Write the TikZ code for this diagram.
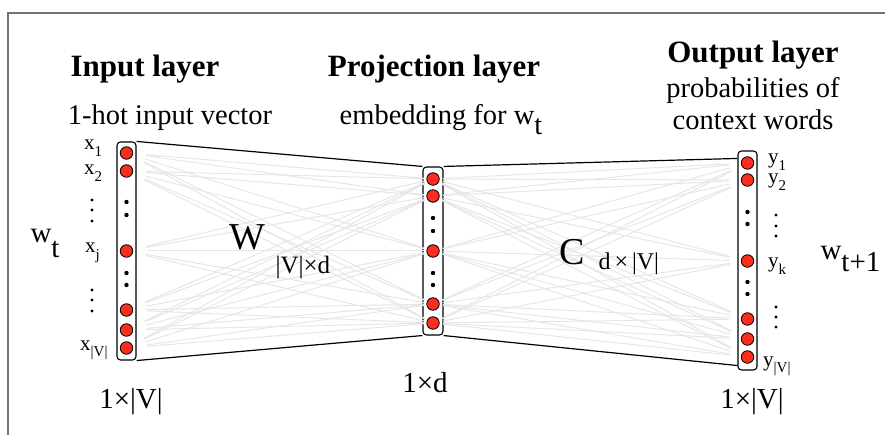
\documentclass[tikz,border=0pt]{standalone}
\usepackage{fontspec}
\setmainfont{Liberation Serif}
\usetikzlibrary{positioning, calc}
\definecolor{unitred}{RGB}{250,45,30}
\definecolor{framegray}{RGB}{115,115,115}
\definecolor{wiregray}{RGB}{230,230,230}
\newcommand{\lowered}[2]{\raisebox{-#1}{#2}}

\begin{document}
\begin{tikzpicture}[
  x=1pt, y=-1pt,
  layer/.style={rectangle, draw=black, line width=1.1pt, rounded corners=3.5pt,
                fill=white, minimum width=19pt, inner sep=0pt},
  unit/.style={circle, draw=black, line width=0.8pt, fill=unitred,
               minimum size=12.5pt, inner sep=0pt},
  gap/.style={circle, fill=black, minimum size=4.4pt, inner sep=0pt},
  vdot/.style={circle, fill=black, minimum size=3.4pt, inner sep=0pt},
  wire/.style={wiregray, line width=1pt},
  edge/.style={black, line width=1.2pt},
  title/.style={font=\fontsize{31}{33}\selectfont\bfseries},
  desc/.style={font=\fontsize{28.5}{32}\selectfont, align=center},
  dim/.style={font=\fontsize{29}{32}\selectfont},
  idx/.style={font=\fontsize{21}{23}\selectfont, inner sep=0pt}
]
  \useasboundingbox (0,0) rectangle (885,435);
  \draw[framegray, line width=1.5pt] (8,435) -- (8,13) -- (885,13);

  % Layers
  \node[layer, minimum height=218pt] (inbox) at (126.5,251) {};
  \node[layer, minimum height=168pt, minimum width=20pt] (projbox) at (433,251) {};
  \node[layer, minimum height=219pt] (outbox) at (747.5,260.5) {};

  \foreach \n/\y in {1/153, 2/171, j/251, a/310, b/330, V/348}
    \node[unit] (in\n) at (126.5,\y) {};
  \foreach \y in {202,215,273,285}
    \node[gap] (ingap\y) at (126.5,\y) {};

  \foreach \n/\y in {1/179, 2/196, 3/251, 4/304, 5/323}
    \node[unit] (p\n) at (433,\y) {};
  \foreach \y in {218,231,273,285}
    \node[gap] (pgap\y) at (433,\y) {};

  \foreach \n/\y in {1/163, 2/180, k/261, a/319, b/339, V/357}
    \node[unit] (out\n) at (747.5,\y) {};
  \foreach \y in {212,224,282,294}
    \node[gap] (outgap\y) at (747.5,\y) {};

  % Weights
  \foreach \a in {1,2,j,a,b,V}
    \foreach \b in {1,...,5}
      \draw[wire, shorten <=20pt, shorten >=9pt] (in\a.center) -- (p\b.center);
  \foreach \a in {1,...,5}
    \foreach \b in {1,2,k,a,b,V}
      \draw[wire, shorten <=10pt, shorten >=18pt] (p\a.center) -- (out\b.center);

  \draw[edge] (inbox.north east) -- (projbox.north west);
  \draw[edge] (inbox.south east) -- (projbox.south west);
  \draw[edge] (projbox.north east) -- ([yshift=-8pt]outbox.north west);
  \draw[edge] (projbox.south east) -- ([yshift=5pt]outbox.south west);

  % Unit labels
  \node[idx, anchor=base west] (x1) at (84,150) {x\lowered{.3em}{\fontsize{15}{16}\selectfont 1}};
  \node[idx, anchor=base west] (x2) at (84,175) {x\lowered{.3em}{\fontsize{15}{16}\selectfont 2}};
  \node[idx, anchor=base west] (xj) at (85,253) {x\lowered{.3em}{\fontsize{15}{16}\selectfont j}};
  \node[idx, anchor=base west] (xV) at (80,350) {x\lowered{.3em}{\fontsize{15}{16}\selectfont |V|}};
  \foreach \y in {200,210,221,290,300,311}
    \node[vdot] (xdot\y) at (92,\y) {};

  \node[idx, anchor=base west] (y1) at (768,164) {y\lowered{.3em}{\fontsize{15}{16}\selectfont 1}};
  \node[idx, anchor=base west] (y2) at (768,184) {y\lowered{.3em}{\fontsize{15}{16}\selectfont 2}};
  \node[idx, anchor=base west] (yk) at (768,268) {y\lowered{.3em}{\fontsize{15}{16}\selectfont k}};
  \node[idx, anchor=base west] (yV) at (763,366) {y\lowered{.3em}{\fontsize{15}{16}\selectfont |V|}};
  \foreach \y in {215,226,236,307,317,327}
    \node[vdot] (ydot\y) at (776,\y) {};

  % Layer titles
  \node[title, anchor=base] (intitle) at (145,77) {Input layer};
  \node[desc, anchor=base] (indesc) at (170,125) {1-hot input vector};
  \node[title, anchor=base] (projtitle) at (434,77) {Projection layer};
  \node[desc, anchor=base] (projdesc) at (441,125) {embedding for w\lowered{.35em}{t}};
  \node[title, anchor=base] (outtitle) at (753,63) {Output layer};
  \node[desc, anchor=base] (outdesc) at (753,130) {probabilities of\\context words};

  % Matrices
  \node[font=\fontsize{38}{40}\selectfont, anchor=base] (wmat) at (247,250) {W};
  \node[font=\fontsize{25}{27}\selectfont, anchor=base west] (wdim) at (272,274) {|V|×d};
  \node[font=\fontsize{38}{40}\selectfont, anchor=base] (cmat) at (572,265) {C};
  \node[font=\fontsize{24}{26}\selectfont, anchor=base west] (cdim) at (595,270) {d\,×\,|V|};

  % Words and sizes
  \node[dim, anchor=base west] (wt) at (27,243) {w\lowered{.5em}{t}};
  \node[dim, anchor=base west] (wnext) at (817,260) {w\lowered{.4em}{t+1}};
  \node[dim, anchor=base] (indim) at (131,408) {1×|V|};
  \node[dim, anchor=base] (projdim) at (425,392) {1×d};
  \node[dim, anchor=base] (outdim) at (752,408) {1×|V|};
\end{tikzpicture}
\end{document}
